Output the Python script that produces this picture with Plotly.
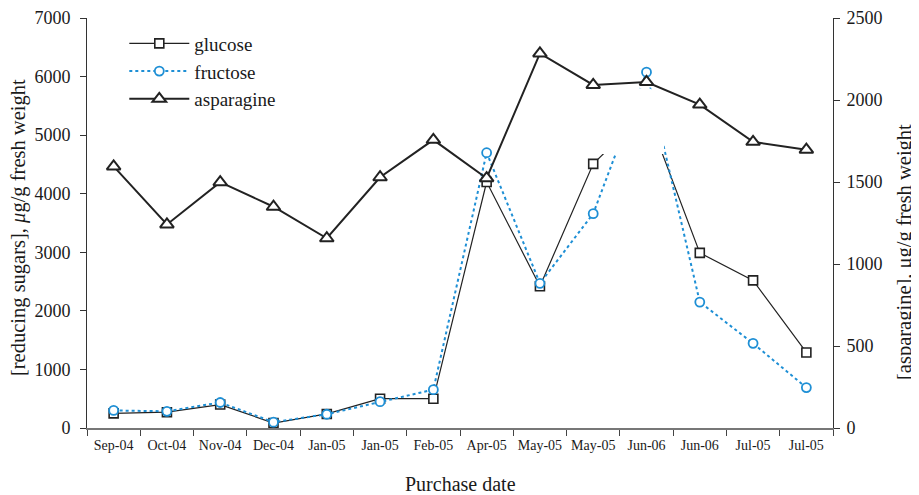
import plotly.graph_objects as go

# ---- data ----
dates = ["Sep-04", "Oct-04", "Nov-04", "Dec-04", "Jan-05", "Jan-05", "Feb-05",
         "Apr-05", "May-05", "May-05", "Jun-06", "Jun-06", "Jul-05", "Jul-05"]
glucose = [250, 270, 400, 85, 240, 500, 500, 4200, 2420, 4510, 5400, 2990, 2520, 1290]
fructose = [300, 285, 435, 100, 235, 450, 655, 4700, 2470, 3660, 6075, 2150, 1445, 690]
asparagine = [1595, 1241, 1499, 1349, 1157, 1529, 1757, 1523, 2284, 2092, 2110, 1972, 1745, 1697]
left_ticks = [0, 1000, 2000, 3000, 4000, 5000, 6000, 7000]
right_ticks = [0, 500, 1000, 1500, 2000, 2500]

idx = list(range(len(dates)))
FONT = "Liberation Serif"
BLUE = "#1E8FD5"
INK = "#1a1a1a"

fig = go.Figure()
fig.add_trace(go.Scatter(
    x=idx, y=glucose, name="glucose", mode="lines+markers",
    line=dict(color="#222222", width=1.2),
    marker=dict(symbol="square", size=9, color="white",
                line=dict(color="#222222", width=1.6)),
))
fig.add_trace(go.Scatter(
    x=idx, y=fructose, name="fructose", mode="lines+markers",
    line=dict(color=BLUE, width=2, dash="dot"),
    marker=dict(symbol="circle", size=9, color="white",
                line=dict(color=BLUE, width=1.8)),
))
fig.add_trace(go.Scatter(
    x=idx, y=asparagine, name="asparagine", mode="lines+markers", yaxis="y2",
    line=dict(color="#222222", width=2),
    marker=dict(symbol="triangle-up", size=12, color="white",
                line=dict(color="#222222", width=2)),
))

# white patch occluding part of the sugar lines (as in the original figure)
fig.add_shape(type="path", xref="x", yref="y",
              path="M 9.15,4680 L 9.15,5800 L 10.05,5800 L 10.33,5690 L 10.33,4680 Z",
              fillcolor="white", line=dict(width=0), layer="above")

# axis titles as annotations (placed like the original)
fig.add_annotation(text="[reducing sugars], <i>μ</i>g/g fresh weight", textangle=-90,
                   xref="paper", yref="paper", x=-0.091, y=0.488,
                   xanchor="center", yanchor="middle", showarrow=False,
                   font=dict(size=20.5, family=FONT, color=INK))
fig.add_annotation(text="[asparagine], μg/g fresh weight", textangle=-90,
                   xref="paper", yref="paper", x=1.095, y=0.429,
                   xanchor="center", yanchor="middle", showarrow=False,
                   font=dict(size=20.5, family=FONT, color=INK))
fig.add_annotation(text="Purchase date",
                   xref="paper", yref="paper", x=0.501, y=-0.1366,
                   xanchor="center", yanchor="middle", showarrow=False,
                   font=dict(size=20, family=FONT, color=INK))

fig.update_layout(
    width=911, height=487,
    margin=dict(l=79, r=86, t=10, b=67, autoexpand=False),
    paper_bgcolor="white", plot_bgcolor="white",
    font=dict(family=FONT, color=INK, size=17),
    showlegend=True,
    legend=dict(x=0.05, y=0.984, xanchor="left", yanchor="top",
                bgcolor="rgba(0,0,0,0)", font=dict(size=19, family=FONT),
                itemwidth=60, tracegroupgap=0),
    xaxis=dict(
        range=[-0.5, 13.5], tickmode="array", tickvals=idx, ticktext=dates,
        ticks="", showgrid=False, zeroline=False, automargin=False,
        showline=True, linecolor="#777777", linewidth=2,
        tickfont=dict(size=14, family=FONT), ticklabelstandoff=3,
        ticklabeloverflow="allow",
        minor=dict(tickmode="linear", tick0=0.5, dtick=1, ticks="outside",
                   ticklen=6, tickcolor="#444444", tickwidth=1, showgrid=False),
    ),
    yaxis=dict(
        range=[0, 7000], tickmode="array", tickvals=left_ticks,
        ticks="outside", ticklen=6, tickcolor="#333333", automargin=False,
        showgrid=False, zeroline=False, showline=True, linecolor="#333333", linewidth=1,
        tickfont=dict(size=18, family=FONT), ticklabelstandoff=6,
        ticklabeloverflow="allow",
    ),
    yaxis2=dict(
        range=[0, 2500], tickmode="array", tickvals=right_ticks, overlaying="y", side="right",
        ticks="outside", ticklen=6, tickcolor="#333333", automargin=False,
        showgrid=False, zeroline=False, showline=True, linecolor="#333333", linewidth=1,
        tickfont=dict(size=18, family=FONT), ticklabelstandoff=3,
        ticklabeloverflow="allow",
    ),
)

fig.write_html("out.html")
